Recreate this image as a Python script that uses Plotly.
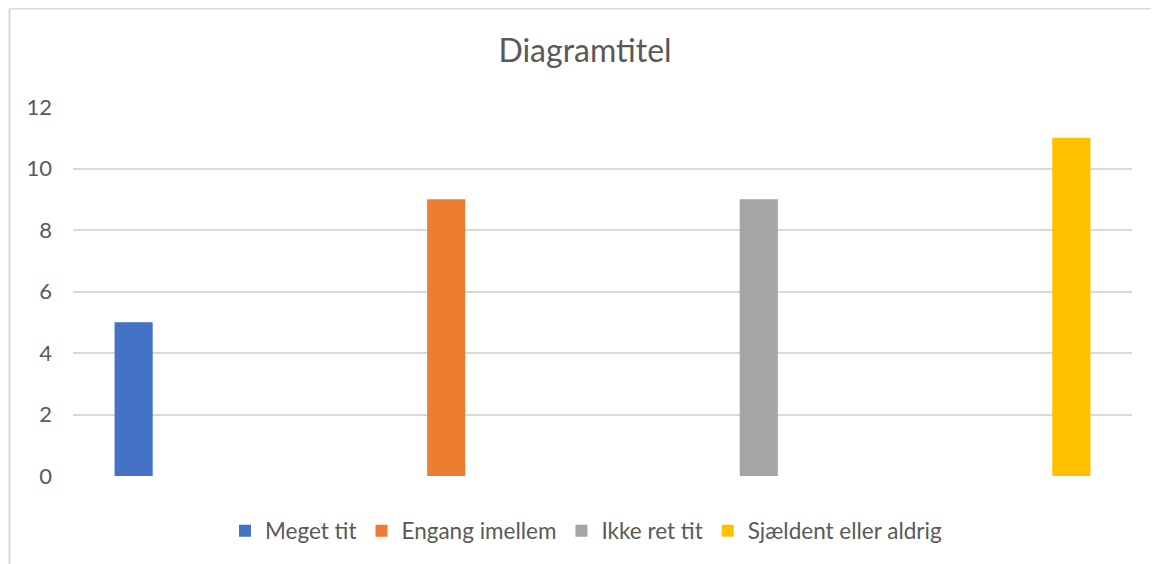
import plotly.graph_objects as go

series = ["Meget tit", "Engang imellem", "Ikke ret tit", "Sjældent eller aldrig"]
values = [5, 9, 9, 11]
colors = ["#4472C4", "#ED7D31", "#A5A5A5", "#FFC000"]
category = [""]

FONT = "Lato"
TXT = "#595959"
GRID = "#D9D9D9"

fig = go.Figure()
for name, v, c in zip(series, values, colors):
    fig.add_trace(go.Bar(x=category, y=[v], name=name, marker=dict(color=c, line=dict(width=0))))

# page body has an 8px margin, so the figure is sized/offset accordingly
W, H = 1151, 556
L, R, T, B = 65, 27, 99, 88
pw = W - L - R
ph = H - T - B
y0px = H - B  # pixel row of y=0

fig.update_layout(
    width=W, height=H,
    margin=dict(l=L, r=R, t=T, b=B),
    paper_bgcolor="white", plot_bgcolor="white",
    barmode="group", bargap=0.0, bargroupgap=0.878,
    title=dict(text="Diagramtitel", x=(585 - 8) / W, xanchor="center", y=1 - 43 / H, yanchor="middle",
               yref="container", font=dict(family=FONT, size=32, color=TXT)),
    font=dict(family=FONT, color=TXT),
    xaxis=dict(type="category", range=[-0.4235, 0.4235], showticklabels=False, showgrid=False,
               zeroline=False, showline=False, ticks=""),
    yaxis=dict(range=[0, 12], dtick=2, tick0=0, showgrid=True, gridcolor=GRID, gridwidth=1.5,
               zeroline=False, showline=False, ticks="", ticklabelstandoff=20,
               tickfont=dict(family=FONT, size=22, color=TXT)),
    legend=dict(orientation="h", x=(578 - L) / pw, xanchor="center", y=(y0px - 523) / ph, yanchor="middle",
                font=dict(family=FONT, size=22.5, color=TXT), traceorder="normal", itemwidth=30,
                bgcolor="rgba(0,0,0,0)"),
    showlegend=True,
    shapes=[
        dict(type="line", xref="paper", yref="paper", x0=(1.5 - L) / pw, x1=(W + 20 - L) / pw,
             y0=(y0px - 0.5) / ph, y1=(y0px - 0.5) / ph, line=dict(color=GRID, width=2)),
        dict(type="line", xref="paper", yref="paper", x0=(1.5 - L) / pw, x1=(1.5 - L) / pw,
             y0=(y0px - 0.5) / ph, y1=(y0px - H - 20) / ph, line=dict(color=GRID, width=2)),
    ],
)

fig.write_html("out.html")
